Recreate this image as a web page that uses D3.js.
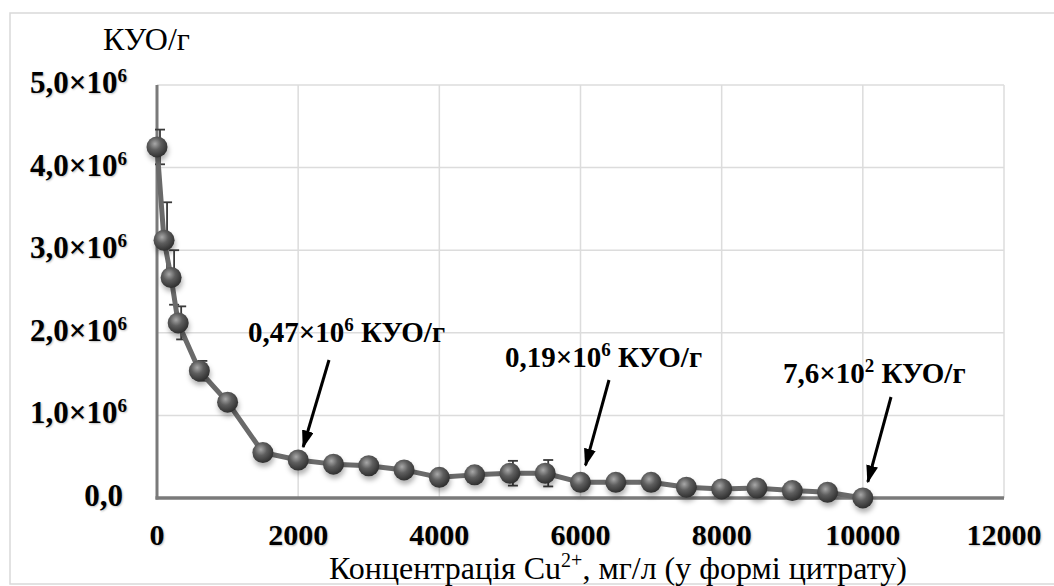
<!DOCTYPE html>
<html>
<head>
<meta charset="utf-8">
<script src="https://cdn.jsdelivr.net/npm/d3@7"></script>
<style>
  body { margin: 0; background: #fff; }
  text { font-family: 'Liberation Serif'; }
</style>
</head>
<body>
<script>
'use strict';

// concentration of Cu2+, mg/l
var concentration = [0, 100, 200, 300, 600, 1000, 1500, 2000, 2500, 3000, 3500, 4000, 4500,
  5000, 5500, 6000, 6500, 7000, 7500, 8000, 8500, 9000, 9500, 10000];
// CFU/g, millions
var cfu = [4.25, 3.12, 2.67, 2.12, 1.54, 1.16, 0.55, 0.46, 0.41, 0.39, 0.34, 0.25, 0.28,
  0.30, 0.30, 0.19, 0.19, 0.19, 0.13, 0.11, 0.12, 0.09, 0.07, 0.00076];
var cfuErr = [0.21, 0.46, 0.33, 0.20, 0.12, 0.03, 0.03, 0.03, 0.03, 0.03, 0.03, 0.03, 0.03,
  0.15, 0.16, 0.03, 0.03, 0.03, 0.03, 0.03, 0.03, 0.03, 0.03, 0.0];

var xTicks = [0, 2000, 4000, 6000, 8000, 10000, 12000];
var yTicks = [0, 1, 2, 3, 4, 5];

var notes = [
  { x: 2000, label: '0,47×10', sup: '6', unit: ' КУО/г' },
  { x: 6000, label: '0,19×10', sup: '6', unit: ' КУО/г' },
  { x: 10000, label: '7,6×10', sup: '2', unit: ' КУО/г' }
];

var FONT = 'Liberation Serif';
var width = 1054;
var height = 586;
var margin = { left: 157, right: 50, top: 85, bottom: 88 };

var x = d3.scaleLinear().domain([0, 12000]).range([margin.left, width - margin.right]);
var y = d3.scaleLinear().domain([0, 5]).range([height - margin.bottom, margin.top]);

var svg = d3.select('body').append('svg')
  .attr('width', width)
  .attr('height', height);

var defs = svg.append('defs');
var grad = defs.append('radialGradient')
  .attr('id', 'ball')
  .attr('cx', '40%').attr('cy', '35%').attr('r', '65%');
grad.append('stop').attr('offset', '0%').attr('stop-color', '#a8a8a8');
grad.append('stop').attr('offset', '45%').attr('stop-color', '#5e5e5e');
grad.append('stop').attr('offset', '100%').attr('stop-color', '#303030');

defs.append('filter').attr('id', 'soft')
  .attr('x', '-50%').attr('y', '-50%').attr('width', '200%').attr('height', '200%')
  .append('feGaussianBlur').attr('stdDeviation', 2.5);

defs.append('marker')
  .attr('id', 'head')
  .attr('viewBox', '0 0 12 8')
  .attr('refX', 11).attr('refY', 4)
  .attr('markerWidth', 6).attr('markerHeight', 4)
  .attr('markerUnits', 'strokeWidth')
  .attr('orient', 'auto')
  .append('path')
  .attr('d', 'M0,0L12,4L0,8z')
  .attr('fill', '#000');

// chart frame
svg.append('rect')
  .attr('x', 10).attr('y', 13)
  .attr('width', 1080).attr('height', 571)
  .attr('fill', 'none')
  .attr('stroke', '#d9d9d9')
  .attr('stroke-width', 1.5);

// grid
svg.append('g')
  .selectAll('line')
  .data(yTicks.slice(1))
  .enter().append('line')
  .attr('x1', x(0)).attr('x2', x(12000))
  .attr('y1', function(d) { return y(d); })
  .attr('y2', function(d) { return y(d); })
  .attr('stroke', '#dcdcdc').attr('stroke-width', 1.5);

svg.append('g')
  .selectAll('line')
  .data(xTicks.slice(1))
  .enter().append('line')
  .attr('x1', function(d) { return x(d); })
  .attr('x2', function(d) { return x(d); })
  .attr('y1', y(0)).attr('y2', y(5))
  .attr('stroke', '#dcdcdc').attr('stroke-width', 1.5);

// axes lines
svg.append('line')
  .attr('x1', x(0)).attr('x2', x(0)).attr('y1', y(0) + 1.5).attr('y2', y(5))
  .attr('stroke', '#7a7a7a').attr('stroke-width', 3);
svg.append('line')
  .attr('x1', x(0) - 1.5).attr('x2', x(12000)).attr('y1', y(0)).attr('y2', y(0))
  .attr('stroke', '#7a7a7a').attr('stroke-width', 3.5);

// tick labels
var yLab = svg.append('g')
  .selectAll('text')
  .data(yTicks)
  .enter().append('text')
  .attr('x', 127)
  .attr('y', function(d) { return y(d) + 8; })
  .attr('text-anchor', 'end')
  .attr('font-family', FONT)
  .attr('font-size', 31)
  .attr('font-weight', 'bold')
  .style('text-shadow', '1px 1px 2px rgba(0,0,0,0.25)');

yLab.each(function(d) {
  var t = d3.select(this);
  if (d === 0) {
    t.attr('x', 123).text('0,0');
    return;
  }
  t.append('tspan').text(d.toFixed(1).replace('.', ',') + '×10');
  t.append('tspan').attr('dy', -11).attr('font-size', 19).text('6');
});

svg.append('g')
  .selectAll('text')
  .data(xTicks)
  .enter().append('text')
  .attr('x', function(d) { return x(d); })
  .attr('y', y(0) + 47)
  .attr('text-anchor', 'middle')
  .attr('font-family', FONT)
  .attr('font-size', 30)
  .attr('font-weight', 'bold')
  .style('text-shadow', '1px 1px 2px rgba(0,0,0,0.25)')
  .text(function(d) { return d; });

// axis titles
svg.append('text')
  .attr('x', 103).attr('y', 50)
  .attr('font-family', FONT)
  .attr('font-size', 32)
  .text('КУО/г');

var xTitle = svg.append('text')
  .attr('x', 618).attr('y', 579)
  .attr('text-anchor', 'middle')
  .attr('font-family', FONT)
  .attr('font-size', 32);
xTitle.append('tspan').text('Концентрація Cu');
xTitle.append('tspan').attr('dy', -12).attr('font-size', 20).text('2+');
xTitle.append('tspan').attr('dy', 12).text(', мг/л (у формі цитрату)');

// error bars
var err = svg.append('g')
  .attr('stroke', '#3a3a3a')
  .attr('stroke-width', 1.8);

concentration.forEach(function(c, i) {
  if (!cfuErr[i]) return;
  var cx = x(c) + 3;
  err.append('line')
    .attr('x1', cx).attr('x2', cx)
    .attr('y1', y(cfu[i] - cfuErr[i])).attr('y2', y(cfu[i] + cfuErr[i]));
  [cfu[i] - cfuErr[i], cfu[i] + cfuErr[i]].forEach(function(v) {
    err.append('line')
      .attr('x1', cx - 5).attr('x2', cx + 5)
      .attr('y1', y(v)).attr('y2', y(v));
  });
});

var points = concentration.map(function(c, i) { return [c, cfu[i]]; });

var line = d3.line()
  .x(function(d) { return x(d[0]); })
  .y(function(d) { return y(d[1]); });

svg.append('path')
  .datum(points)
  .attr('d', line)
  .attr('fill', 'none')
  .attr('stroke', '#6a6a6a')
  .attr('stroke-width', 5)
  .attr('stroke-linejoin', 'round');

// marker shadows then balls
svg.append('g')
  .selectAll('circle')
  .data(points)
  .enter().append('circle')
  .attr('cx', function(d) { return x(d[0]) + 1; })
  .attr('cy', function(d) { return y(d[1]) + 4; })
  .attr('r', 10.5)
  .attr('fill', 'rgba(0,0,0,0.3)')
  .attr('filter', 'url(#soft)');

svg.append('g')
  .selectAll('circle')
  .data(points)
  .enter().append('circle')
  .attr('cx', function(d) { return x(d[0]); })
  .attr('cy', function(d) { return y(d[1]); })
  .attr('r', 10.5)
  .attr('fill', 'url(#ball)');

// annotations
var ann = svg.append('g');
var offsets = [
  { tx: 248, ty: 342, ax: 329, ay: 360, dy: 13 },
  { tx: 505, ty: 367, ax: 609, ay: 380, dy: 17 },
  { tx: 783, ty: 383, ax: 891, ay: 397, dy: 16 }
];

notes.forEach(function(n, i) {
  var o = offsets[i];
  var idx = concentration.indexOf(n.x);
  var t = ann.append('text')
    .attr('x', o.tx).attr('y', o.ty)
    .attr('font-family', FONT)
    .attr('font-size', 29)
    .attr('font-weight', 'bold');
  t.append('tspan').text(n.label);
  t.append('tspan').attr('dy', -11).attr('font-size', 19).text(n.sup);
  t.append('tspan').attr('dy', 11).text(n.unit);

  ann.append('line')
    .attr('x1', o.ax).attr('y1', o.ay)
    .attr('x2', x(n.x) + 5).attr('y2', y(cfu[idx]) - o.dy)
    .attr('stroke', '#000')
    .attr('stroke-width', 3)
    .attr('marker-end', 'url(#head)');
});
</script>
</body>
</html>
